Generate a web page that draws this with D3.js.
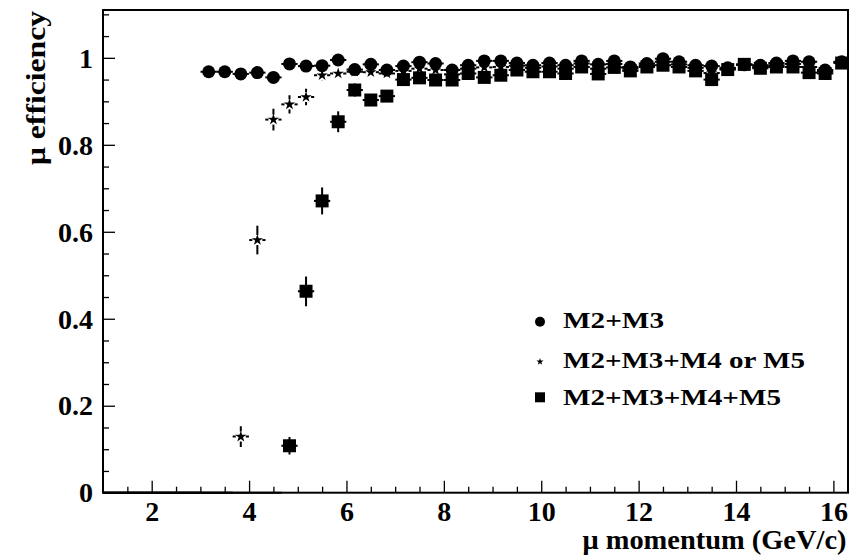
<!DOCTYPE html>
<html>
<head>
<meta charset="utf-8">
<script src="https://cdn.jsdelivr.net/npm/d3@7"></script>
<style>
  html, body { margin: 0; padding: 0; background: #fff; }
  svg { display: block; }
  text { font-family: "Liberation Serif", "Times New Roman", serif; font-weight: bold; fill: #000; }
</style>
</head>
<body>
<svg id="chart" width="859" height="556"></svg>
<script>
// Bin centres of muon momentum (GeV/c), bins of 1/3 GeV/c
const momentum = [1.17, 1.5, 1.83, 2.17, 2.5, 2.83, 3.17, 3.5, 3.83, 4.17, 4.5, 4.83,
  5.17, 5.5, 5.83, 6.17, 6.5, 6.83, 7.17, 7.5, 7.83, 8.17, 8.5, 8.83, 9.17, 9.5, 9.83,
  10.17, 10.5, 10.83, 11.17, 11.5, 11.83, 12.17, 12.5, 12.83, 13.17, 13.5, 13.83, 14.17,
  14.5, 14.83, 15.17, 15.5, 15.83, 16.17];
const binHalfWidth = 0.167;

// Efficiency: M2+M3
const effM23 = [0, 0, 0, 0, 0, 0, 0.968, 0.968, 0.963, 0.966, 0.955, 0.986,
  0.981, 0.982, 0.995, 0.973, 0.985, 0.972, 0.981, 0.990, 0.987, 0.972, 0.983, 0.993, 0.993, 0.988, 0.983,
  0.988, 0.983, 0.993, 0.985, 0.993, 0.979, 0.987, 0.998, 0.991, 0.983, 0.981, 0.977, 0.984,
  0.983, 0.988, 0.993, 0.991, 0.972, 0.991];
const errM23 = [0, 0, 0, 0, 0, 0, 0.006, 0.006, 0.006, 0.006, 0.006, 0.006,
  0.006, 0.006, 0.006, 0.006, 0.006, 0.006, 0.006, 0.006, 0.006, 0.006, 0.006, 0.006, 0.006, 0.006, 0.006,
  0.006, 0.006, 0.006, 0.006, 0.006, 0.006, 0.006, 0.006, 0.006, 0.006, 0.006, 0.006, 0.006,
  0.006, 0.006, 0.006, 0.006, 0.006, 0.006];

// Efficiency: M2+M3+M4 or M5
const effM234or5 = [0, 0, 0, 0, 0, 0, 0, 0, 0.129, 0.581, 0.858, 0.893,
  0.910, 0.960, 0.964, 0.968, 0.967, 0.964, 0.970, 0.975, 0.972, 0.962, 0.975, 0.978, 0.979, 0.982, 0.977,
  0.980, 0.975, 0.987, 0.975, 0.986, 0.975, 0.983, 0.991, 0.985, 0.977, 0.965, 0.975, 0.984,
  0.979, 0.983, 0.986, 0.979, 0.968, 0.990];
const errM234or5 = [0, 0, 0, 0, 0, 0, 0, 0, 0.024, 0.033, 0.025, 0.021,
  0.019, 0.012, 0.010, 0.008, 0.008, 0.008, 0.008, 0.008, 0.008, 0.008, 0.008, 0.008, 0.008, 0.008, 0.008,
  0.008, 0.008, 0.008, 0.008, 0.008, 0.008, 0.008, 0.008, 0.008, 0.008, 0.008, 0.008, 0.008,
  0.008, 0.008, 0.008, 0.008, 0.008, 0.008];

// Efficiency: M2+M3+M4+M5
const effM2345 = [0, 0, 0, 0, 0, 0, 0, 0, 0, 0, 0, 0.108,
  0.463, 0.671, 0.853, 0.926, 0.903, 0.912, 0.950, 0.954, 0.949, 0.949, 0.964, 0.955, 0.960, 0.972, 0.968,
  0.968, 0.964, 0.979, 0.963, 0.978, 0.970, 0.979, 0.983, 0.979, 0.970, 0.950, 0.973, 0.985,
  0.976, 0.979, 0.979, 0.966, 0.964, 0.988];
const errM2345 = [0, 0, 0, 0, 0, 0, 0, 0, 0, 0, 0, 0.020,
  0.034, 0.031, 0.024, 0.015, 0.014, 0.013, 0.009, 0.009, 0.009, 0.009, 0.009, 0.009, 0.009, 0.009, 0.009,
  0.009, 0.009, 0.009, 0.009, 0.009, 0.009, 0.009, 0.009, 0.009, 0.009, 0.009, 0.009, 0.009,
  0.009, 0.009, 0.009, 0.009, 0.009, 0.009];

const seriesNames = ["M2+M3", "M2+M3+M4 or M5", "M2+M3+M4+M5"];
const seriesKinds = ["circle", "star", "square"];

const xMajorTicks = [2, 4, 6, 8, 10, 12, 14, 16];
const yMajorTicks = [0, 0.2, 0.4, 0.6, 0.8, 1];
const xTitle = "\u03bc momentum (GeV/c)";
const yTitle = "\u03bc efficiency";

// ---- layout ----
const svg = d3.select("#chart");
const plotLeft = 103, plotRight = 848, plotTop = 10, plotBottom = 492.7;

const x = d3.scaleLinear().domain([1, 16.3]).range([plotLeft, plotRight]);
const y = d3.scaleLinear().domain([0, 1.11]).range([plotBottom, plotTop]);

const xMinor = d3.range(1.5, 16.3, 0.5).filter(v => !xMajorTicks.some(t => Math.abs(t - v) < 1e-6));
const yMinor = d3.range(0.05, 1.11, 0.05).filter(v => !yMajorTicks.some(t => Math.abs(t - v) < 1e-6));

svg.append("defs").append("clipPath").attr("id", "plotClip")
  .append("rect").attr("x", plotLeft).attr("y", plotTop - 10)
  .attr("width", plotRight - plotLeft).attr("height", plotBottom - plotTop + 20);

// minor ticks
const gx2 = svg.append("g").attr("transform", `translate(0,${plotBottom})`)
  .call(d3.axisBottom(x).tickValues(xMinor).tickSizeInner(-6).tickSizeOuter(0).tickFormat(""));
const gy2 = svg.append("g").attr("transform", `translate(${plotLeft},0)`)
  .call(d3.axisLeft(y).tickValues(yMinor).tickSizeInner(-6).tickSizeOuter(0).tickFormat(""));
[gx2, gy2].forEach(g => { g.select(".domain").remove(); g.selectAll(".tick line").attr("stroke", "#000").attr("stroke-width", 1.3); });

// major ticks and labels
const fmt = v => String(+v.toFixed(1));
const gx = svg.append("g").attr("transform", `translate(0,${plotBottom})`)
  .call(d3.axisBottom(x).tickValues(xMajorTicks).tickSizeInner(-12).tickSizeOuter(0).tickFormat(fmt));
gx.selectAll(".tick line").attr("stroke", "#000").attr("stroke-width", 1.3);
gx.selectAll(".tick text").attr("y", 28).attr("dy", null)
  .style("font-size", "28px").style("font-family", "Liberation Serif").style("font-weight", "bold");

const gy = svg.append("g").attr("transform", `translate(${plotLeft},0)`)
  .call(d3.axisLeft(y).tickValues(yMajorTicks).tickSizeInner(-12).tickSizeOuter(0).tickFormat(fmt));
gy.selectAll(".tick line").attr("stroke", "#000").attr("stroke-width", 1.3);
gy.selectAll(".tick text").attr("x", -10).attr("dy", "0.33em")
  .style("font-size", "28px").style("font-family", "Liberation Serif").style("font-weight", "bold");
[gx, gy].forEach(g => g.select(".domain").remove());

// frame
svg.append("rect").attr("x", plotLeft).attr("y", plotTop)
  .attr("width", plotRight - plotLeft).attr("height", plotBottom - plotTop)
  .attr("fill", "none").attr("stroke", "#000").attr("stroke-width", 2);

// axis titles
svg.append("text").attr("x", 846.5).attr("y", 549).attr("text-anchor", "end")
  .attr("textLength", 264).attr("lengthAdjust", "spacingAndGlyphs")
  .style("font-size", "27px").text(xTitle);
svg.append("text").attr("transform", "translate(45,11) rotate(-90)").attr("text-anchor", "end")
  .attr("textLength", 154).attr("lengthAdjust", "spacingAndGlyphs")
  .style("font-size", "27px").text(yTitle);

// ---- data ----
const effs = [effM23, effM234or5, effM2345];
const errs = [errM23, errM234or5, errM2345];
const gap = 5;

const plot = svg.append("g").attr("clip-path", "url(#plotClip)");

const symbolFor = kind => kind === "circle" ? d3.symbol(d3.symbolCircle, Math.PI * 6.5 * 6.5)
  : kind === "star" ? d3.symbol(d3.symbolStar, 40)
  : d3.symbol(d3.symbolSquare, 13 * 13);

effs.forEach((eff, si) => {
  const pts = momentum.map((p, i) => ({ p, v: eff[i], e: errs[si][i] }));
  const g = plot.append("g");
  // error bars, with a gap left around the marker
  pts.forEach(d => {
    const cx = x(d.p), cy = y(d.v);
    const hx0 = x(d.p - binHalfWidth), hx1 = x(d.p + binHalfWidth);
    const segs = [];
    if (d.v === 0) {
      segs.push([hx0, cy, hx1, cy]);
    } else {
      if (cx - hx0 > gap) segs.push([hx0, cy, cx - gap, cy]);
      if (hx1 - cx > gap) segs.push([cx + gap, cy, hx1, cy]);
      const vy0 = y(d.v + d.e), vy1 = y(d.v - d.e);
      if (cy - vy0 > gap) segs.push([cx, vy0, cx, cy - gap]);
      if (vy1 - cy > gap) segs.push([cx, cy + gap, cx, vy1]);
    }
    segs.forEach(s => g.append("line")
      .attr("x1", s[0]).attr("y1", s[1]).attr("x2", s[2]).attr("y2", s[3])
      .attr("stroke", "#000").attr("stroke-width", 2));
  });
  // markers (points on the lower frame edge are not drawn)
  g.selectAll("path.marker").data(pts.filter(d => d.v > 0)).join("path")
    .attr("class", "marker")
    .attr("transform", d => `translate(${x(d.p)},${y(d.v)})`)
    .attr("d", symbolFor(seriesKinds[si]))
    .attr("fill", "#000");
});

// ---- legend ----
const legendRows = [328, 367.7, 405.3];
const legendWidths = [101, 242, 218];
const legendSymbols = [d3.symbol(d3.symbolCircle, Math.PI * 5 * 5), d3.symbol(d3.symbolStar, 16), d3.symbol(d3.symbolSquare, 100)];
const legendMarkerY = [321.7, 361.7, 397.3];
seriesNames.forEach((name, i) => {
  svg.append("path").attr("transform", `translate(540,${legendMarkerY[i]})`)
    .attr("d", legendSymbols[i]).attr("fill", "#000");
  svg.append("text").attr("x", 563).attr("y", legendRows[i])
    .attr("textLength", legendWidths[i]).attr("lengthAdjust", "spacingAndGlyphs")
    .style("font-size", "23.5px").text(name);
});
</script>
</body>
</html>
